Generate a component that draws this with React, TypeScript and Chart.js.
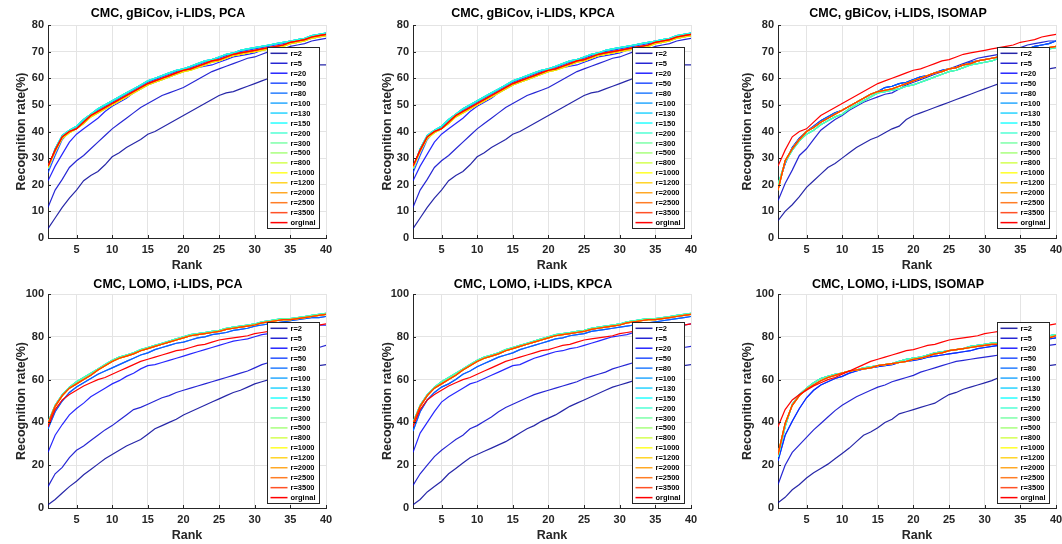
import React, { useEffect, useRef } from 'react';
import { Chart, registerables } from 'chart.js';

Chart.register(...registerables);

const FONT = "'Liberation Sans', Arial, Helvetica, sans-serif";

const RANKS = [1,2,3,4,5,6,7,8,9,10,11,12,13,14,15,16,17,18,19,20,21,22,23,24,25,26,27,28,29,30,31,32,33,34,35,36,37,38,39,40];
const X_TICKS = [5, 10, 15, 20, 25, 30, 35, 40];
const SERIES_LABELS = ['r=2','r=5','r=20','r=50','r=80','r=100','r=130','r=150','r=200','r=300','r=500','r=800','r=1000','r=1200','r=2000','r=2500','r=3500','orginal'];

// ---- gBiCov, PCA / KPCA ----
const G_R2 = [3.5,7.5,11.5,15,18,21.5,23.5,25,27.5,30.5,32,34,35.5,37,39,40,41.5,43,44.5,46,47.5,49,50.5,52,53.5,54.5,55,56,57,58,59,60,61,62,62.5,63.5,64,64.5,65,65];
const G_R5 = [11.5,18,22,26.5,29,31,33.5,36,38.5,41,43,45,47,49,50.5,52,53.5,54.5,55.5,56.5,58,59.5,61,62.5,63.5,64.5,65.5,66.5,67.5,68,69,70,70.5,71,72,72.5,73,74,74.5,75];
const G_R20 = [21.5,27,31.5,36,39,41,43,45,47.5,49.5,51,52.5,54.5,56,57.5,58.5,59.5,60.5,61.5,62.5,63.5,64,64.5,65,66,67,68,68.5,69,69.5,70.5,71,71.5,72.5,73,73.5,74.5,75,75.5,76];
const G_R50 = [24.5,31,37,40,41.5,44,46,48,49.5,51,52.5,54,55.5,57,58.5,59.5,60.5,61.5,62.5,63.5,64,65,66,67,67.5,68.5,69.5,70,70.5,71,71.5,72,72.5,73,73.5,74,74.5,75.5,76,76.5];
const G_HI = [26,33.5,38.5,40.5,42,44.5,46.5,48.5,50,51.5,53,54.5,56,57.5,59,60,61,62,63,63.5,64.5,65.5,66.5,67,68,69,69.5,70.5,71,71.5,72,72.5,73,73.5,74,74.5,75,76,76.5,77];
const G_MID = [26.5,32.5,37.5,39.5,41,43,45.5,47,48.5,50,51.5,53,54.5,56,57.5,58.5,59.5,60.5,61.5,62.5,63,64,65,66,66.5,67.5,68.5,69,69.5,70,70.5,71,71.5,72,73,73.5,74,75,75.5,76];
const G_ORIG = [27,33,38,40,41,43.5,46,47.5,49,50.5,52,53.5,55,56.5,58,59,60,61,62,63,63.5,64.5,65.5,66.5,67,68,69,69.5,70,70.5,71,71.5,72,72.5,73.5,74,74.5,75.5,76,76.5];

// ---- gBiCov, ISOMAP ----
const GI_R2 = [6.5,10,12.5,15.5,19,21.5,24,26.5,28,30,32,34,35.5,37,38,39.5,41,42,44.5,46,47,48,49,50,51,52,53,54,55,56,57,58,59,59.5,60.5,61.5,62.5,63,63.5,64];
const GI_R5 = [14,20.5,25.5,31,33.5,37,40.5,42.5,44.5,46,48,49.5,51,52,53,54,54.5,56,57.5,58.5,59.5,60.5,61.5,62.5,63.5,64.5,65.5,66.5,67.5,68,68.5,69,69.5,70.5,71.5,72.5,73,73.5,74,74];
const GI_BL = [19.5,28,34,37.5,40,42,44,45.5,47,48,49.5,51,52.5,54,55,56.5,57,58,58.5,59.5,60.5,61,62,63,63.5,64,65,66,66.5,67,67.5,68,68.5,69,70,71,72,72.5,73,74];
const GI_CY = [20,28.5,33,36.5,39,40.5,42.5,44,45.5,46.5,48.5,50,51.5,53,54.5,55,55.5,56,57,57.5,58.5,59.5,60.5,61.5,62.5,63,64,65,65.5,66,66.5,67.5,68,68.5,69,69.5,70,70.5,71,71.5];
const GI_OR = [18,29,33.5,37,40,41.5,43.5,45,46.5,48,49.5,51,52.5,54,55,55.5,56,57,58,59,60,61,62,62.5,63.5,64,65,65.5,66.5,67,67.5,68,68.5,69,69.5,70,70.5,71,71.5,72];

// ---- LOMO, PCA ----
const L_R2 = [1.5,4,7,10,12.5,15.5,18,20.5,23,25,27,29,30.5,32,34.5,37,38.5,40,41.5,43.5,45,46.5,48,49.5,51,52.5,54,55,56.5,58,59,60,61,62,63,64,65,66,66.5,67];
const L_R5 = [10,16,19,23.5,27,29,31.5,34,36.5,38.5,41,43.5,46,47,48.5,50,51.5,52.5,54,55,56,57,58,59,60,61,62,63,64,65.5,67,68,69,70,71,72,73,74,75,76];
const L_R20 = [26,34,39,43.5,46.5,49,52,54,56,58,59.5,61.5,63,65,66.5,67,68,69,70,71,72,73,74,75,76,77,78,78.5,79,80,81,81.5,82,83,83.5,84,84.5,85,85.5,85.5];
const L_R50 = [37,45,50,54,56.5,58.5,60.5,62.5,64,65.5,67,68.5,70,71.5,72.5,74,75,76,77,77.5,78.5,79.5,80,81,81.5,82,83,83.5,84,85,85.5,86,86.5,87,87.5,88,88.5,89,89,89.5];
const L_CY = [40,48,53,56.5,59,61,63,65,67,69,70.5,71.5,72.5,74,75,76,77,78,79,80,81,81.5,82,82.5,83,84,84.5,85,85.5,86,87,87.5,88,88.5,88.5,89,89.5,90,90.5,91];
const L_OR = [39.5,47.5,52.5,56,58,60,62,64.5,66.5,68.5,70,71,72,73.5,74.5,75.5,76.5,77.5,78.5,79.5,80.5,81,81.5,82,82.5,83.5,84,84.5,85,85.5,86.5,87,87.5,88,88,88.5,89,89.5,90,90.5];
const L_ORIG = [38,46,50.5,53,55,57,58.5,60,61,62.5,64,65.5,67,68.5,69.5,70.5,71.5,72.5,73.5,74,75,76,76.5,77.5,78.5,79,79.5,80,80.5,81.5,82,82.5,83,83.5,84,84.5,85,85.5,85.5,86];

// ---- LOMO, KPCA ----
const K_R2 = [1.5,4,7.5,10,12.5,16,18.5,21,23.5,25,26.5,28,29.5,31,33,35,37,38.5,40.5,42,43.5,45.5,47.5,49,50.5,52,53.5,55,56.5,57.5,58.5,59.5,60.5,61.5,62.5,63.5,64.5,65.5,66.5,67];
const K_R5 = [10.5,16,20,24,27,29.5,32,34,37,38.5,40.5,42.5,45,47,48.5,50,51.5,53,54,55,56,57,58,59,60.5,61.5,62.5,63.5,65,66,67,68,69,70,71,72,73,74,75,75.5];
const K_R20 = [26,35,40,45,49.5,52,54,56,58,59,60.5,62,63.5,65,66.5,67,68.5,70,71,72,73,73.5,74.5,75,76,77,78,79,80,80.5,81,82,83,83.5,84,84.5,85,85.5,85.5,86];
const K_R50 = [36,45,50.5,54,56.5,58,60,62.5,64,66,67.5,69,70.5,71.5,72.5,74,75,76,77,78,79,79.5,80.5,81,81.5,82.5,83,83.5,84,84.5,85,85.5,86,86.5,87,87.5,88,88.5,89,89.5];

// ---- LOMO, ISOMAP ----
const LI_R2 = [2.5,5,8.5,11,14,16.5,18.5,20.5,23,25.5,28,31,34,35.5,37.5,40,41.5,44,45,46,47,48,49,51,53,54,55.5,56.5,57.5,58.5,59.5,61,61.5,62.5,63.5,64.5,65.5,66,66.5,67];
const LI_R5 = [11,20,26,29.5,33,36.5,39.5,42.5,45.5,48,50,52,53.5,55,56.5,57.5,59,60,61,62,63.5,64.5,65.5,66.5,67.5,68.5,69,69.5,70,70.5,71,71.5,72,73,73.5,74.5,75,75.5,76,76.5];
const LI_BL = [22,34,40.5,46.5,51.5,55,57.5,59,60.5,61.5,63,64,65,65.5,66,66.5,67,68,68.5,69,69.5,70.5,71,71.5,72,72.5,73,73.5,74.5,75,75.5,76,76.5,76.5,77,77.5,78,78.5,79,79.5];
const LI_CY = [24,38,48.5,53,56,58.5,60.5,61.5,62.5,63,64,64.5,65.5,66,66.5,67,67.5,68.5,69.5,70,70.5,71.5,72.5,73,73.5,74,74.5,75.5,76,76.5,77,77,77.5,78,78.5,79,79.5,80,80.5,81];
const LI_OR = [25,39.5,48,52.5,55.5,57.5,59.5,61,62,63,64,64.5,65,65.5,66.5,67,67.5,68,68.5,69.5,70,71,72,72.5,73.5,74,74.5,75,75.5,76,76.5,76.5,77,77,77.5,78,78.5,79,79.5,80.5];

const G_PCA_SERIES = [G_R2,G_R5,G_R20,G_R50,G_HI,G_HI,G_HI,G_HI,G_HI,G_MID,G_MID,G_MID,G_MID,G_MID,G_ORIG,G_ORIG,G_ORIG,G_ORIG];
const G_ISO_SERIES = [GI_R2,GI_R5,GI_BL,GI_BL,GI_BL,GI_CY,GI_CY,GI_CY,GI_CY,GI_CY,GI_OR,GI_OR,GI_OR,GI_OR,GI_OR,GI_OR,GI_OR,G_ORIG];
const L_PCA_SERIES = [L_R2,L_R5,L_R20,L_R50,L_R50,L_CY,L_CY,L_CY,L_CY,L_CY,L_OR,L_OR,L_OR,L_OR,L_OR,L_OR,L_OR,L_ORIG];
const L_KPCA_SERIES = [K_R2,K_R5,K_R20,K_R50,K_R50,L_CY,L_CY,L_CY,L_CY,L_CY,L_OR,L_OR,L_OR,L_OR,L_OR,L_OR,L_OR,L_ORIG];
const L_ISO_SERIES = [LI_R2,LI_R5,LI_BL,LI_BL,LI_CY,LI_CY,LI_CY,LI_CY,LI_CY,LI_CY,LI_OR,LI_OR,LI_OR,LI_OR,LI_OR,LI_OR,LI_OR,L_ORIG];

const PANELS = [
  { title: 'CMC, gBiCov, i-LIDS, PCA', row: 0, col: 0, yMax: 80, yStep: 10, series: G_PCA_SERIES },
  { title: 'CMC, gBiCov, i-LIDS, KPCA', row: 0, col: 1, yMax: 80, yStep: 10, series: G_PCA_SERIES },
  { title: 'CMC, gBiCov, i-LIDS, ISOMAP', row: 0, col: 2, yMax: 80, yStep: 10, series: G_ISO_SERIES },
  { title: 'CMC, LOMO, i-LIDS, PCA', row: 1, col: 0, yMax: 100, yStep: 20, series: L_PCA_SERIES },
  { title: 'CMC, LOMO, i-LIDS, KPCA', row: 1, col: 1, yMax: 100, yStep: 20, series: L_KPCA_SERIES },
  { title: 'CMC, LOMO, i-LIDS, ISOMAP', row: 1, col: 2, yMax: 100, yStep: 20, series: L_ISO_SERIES },
];

// layout geometry
const PLOT_LEFT = [48, 413, 778];
const PLOT_W = 278;
const Y_AREA = 48;
const RIGHT_PAD = 14;
const CANVAS_TOP = [0, 269];
const CANVAS_H = [274, 275];
const X_AREA = 36;
const TITLE_PAD = [{ top: 5.8, bottom: 4.2 }, { top: 8.5, bottom: 1.5 }];
const YTITLE_PAD = [4, 5, 0];
const LEGEND_TOP = [22, 28];

function jet(i: number): [number, number, number] {
  const t = 0.025 + 0.05 * i;
  const c = (v: number) => Math.round(255 * Math.max(0, Math.min(1, v)));
  return [c(1.5 - Math.abs(4 * t - 3)), c(1.5 - Math.abs(4 * t - 2)), c(1.5 - Math.abs(4 * t - 1))];
}

const decorPlugin = {
  id: 'decor',
  afterDatasetsDraw(chart: any, _args: any, opts: any) {
    const { ctx, chartArea } = chart;
    const xs = chart.scales.x;
    const ys = chart.scales.y;
    ctx.save();
    // inward tick marks
    ctx.strokeStyle = '#262626';
    ctx.lineWidth = 1;
    ctx.beginPath();
    X_TICKS.forEach((v) => {
      const px = Math.round(xs.getPixelForValue(v)) + 0.5;
      ctx.moveTo(px, chartArea.bottom);
      ctx.lineTo(px, chartArea.bottom - 3);
    });
    ys.ticks.forEach((t: any) => {
      const py = Math.round(ys.getPixelForValue(t.value)) + 0.5;
      ctx.moveTo(chartArea.left, py);
      ctx.lineTo(chartArea.left + 3, py);
    });
    ctx.stroke();

    // legend box
    const w = 52;
    const h = 181;
    const x1 = Math.round(chartArea.right - 7 - w) + 0.5;
    const y1 = Math.round(chartArea.top + opts.top) + 0.5;
    ctx.fillStyle = '#ffffff';
    ctx.fillRect(x1, y1, w, h);
    ctx.strokeStyle = '#262626';
    ctx.strokeRect(x1, y1, w, h);
    ctx.font = `bold 7.5px ${FONT}`;
    ctx.textBaseline = 'middle';
    ctx.textAlign = 'left';
    chart.data.datasets.forEach((ds: any, i: number) => {
      const y = y1 + 5.8 + i * 9.96;
      ctx.strokeStyle = ds.borderColor;
      ctx.lineWidth = 1.5;
      ctx.beginPath();
      ctx.moveTo(x1 + 3, y);
      ctx.lineTo(x1 + 20, y);
      ctx.stroke();
      ctx.fillStyle = '#000000';
      ctx.fillText(ds.label, x1 + 23, y + 0.5);
    });
    ctx.restore();
  },
};

function Panel({ p }: { p: typeof PANELS[number] }) {
  const ref = useRef<HTMLCanvasElement>(null);
  const left = PLOT_LEFT[p.col] - Y_AREA;
  const width = Y_AREA + PLOT_W + RIGHT_PAD;
  const top = CANVAS_TOP[p.row];
  const height = CANVAS_H[p.row];

  useEffect(() => {
    const datasets = p.series.map((arr, i) => {
      const [r, g, b] = jet(i);
      const alpha = i === SERIES_LABELS.length - 1 ? 1 : 0.85;
      return {
        label: SERIES_LABELS[i],
        data: RANKS.map((x, k) => ({ x, y: arr[k] })),
        borderColor: `rgba(${r},${g},${b},${alpha})`,
        backgroundColor: `rgba(${r},${g},${b},${alpha})`,
        borderWidth: 1.2,
        pointRadius: 0,
        tension: 0,
        fill: false,
        order: SERIES_LABELS.length - 1 - i,
      };
    });
    const chart = new Chart(ref.current as HTMLCanvasElement, {
      type: 'line',
      data: { datasets },
      options: {
        responsive: false,
        animation: false,
        events: [],
        layout: { padding: { left: 10, right: RIGHT_PAD, top: 0, bottom: 0 } },
        plugins: {
          legend: { display: false },
          tooltip: { enabled: false },
          title: {
            display: true,
            text: p.title,
            color: '#000000',
            font: { family: FONT, size: 12.5, weight: 'bold', lineHeight: 1.2 },
            padding: TITLE_PAD[p.row],
          },
          decor: { top: LEGEND_TOP[p.row] },
        } as any,
        scales: {
          x: {
            type: 'linear',
            min: 1,
            max: 40,
            afterBuildTicks: (s: any) => {
              s.ticks = X_TICKS.map((v) => ({ value: v }));
            },
            afterFit: (s: any) => {
              s.height = X_AREA;
            },
            grid: { color: '#e4e4e4', lineWidth: 1, drawTicks: false },
            border: { display: true, color: '#262626', width: 1 },
            ticks: {
              color: '#262626',
              font: { family: FONT, size: 11, weight: 'bold' },
              padding: 5,
              maxRotation: 0,
              autoSkip: false,
            },
            title: {
              display: true,
              text: 'Rank',
              color: '#262626',
              font: { family: FONT, size: 12.5, weight: 'bold', lineHeight: 1.2 },
              padding: { top: 0, bottom: 1 },
            },
          },
          y: {
            min: 0,
            max: p.yMax,
            afterFit: (s: any) => {
              s.width = Y_AREA - 10;
            },
            grid: { color: '#e4e4e4', lineWidth: 1, drawTicks: false },
            border: { display: true, color: '#262626', width: 1 },
            ticks: {
              stepSize: p.yStep,
              color: '#262626',
              font: { family: FONT, size: 11, weight: 'bold' },
              padding: 4,
            },
            title: {
              display: true,
              text: 'Recognition rate(%)',
              color: '#262626',
              font: { family: FONT, size: 12.5, weight: 'bold', lineHeight: 1.2 },
              padding: { top: YTITLE_PAD[p.col], bottom: 0 },
            },
          },
        },
      } as any,
      plugins: [decorPlugin],
    });
    return () => chart.destroy();
  }, []);

  return (
    <canvas
      ref={ref}
      width={width}
      height={height}
      style={{ position: 'absolute', left, top, width, height }}
    />
  );
}

export default function App() {
  return (
    <div style={{ position: 'absolute', left: 0, top: 0, width: 1062, height: 544, background: '#ffffff', overflow: 'hidden' }}>
      {PANELS.map((p) => (
        <Panel key={p.title} p={p} />
      ))}
    </div>
  );
}
